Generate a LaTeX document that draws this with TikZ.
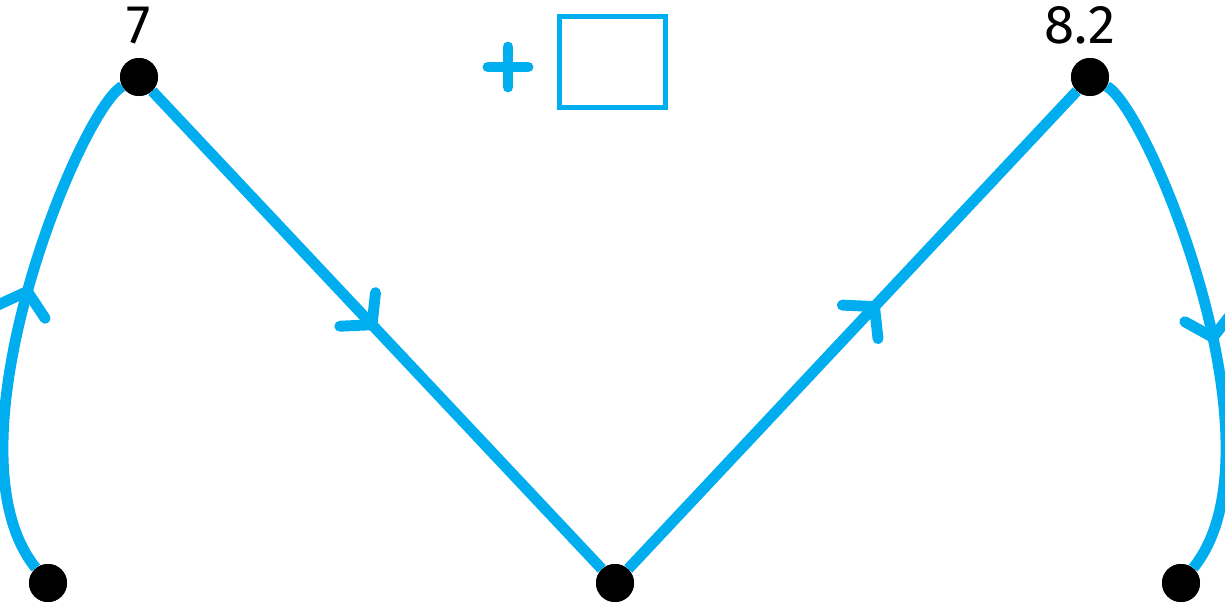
\documentclass[tikz,border=0pt]{standalone}
\usepackage{fontspec}
\setmainfont{Fira Sans}
\usepackage{tikz}
\usetikzlibrary{calc, positioning, arrows.meta, decorations.markings}
\definecolor{pathblue}{RGB}{0,174,239}

\begin{document}
\begin{tikzpicture}[
    dot/.style={circle, fill=black, inner sep=0pt, minimum size=0.76cm},
    val/.style={inner sep=0pt, font=\fontsize{31}{34}\selectfont},
    route/.style={draw=pathblue, line width=6.2pt},
    midarrow/.style={postaction={decorate, decoration={markings,
        mark=at position #1 with {\arrow{Straight Barb[length=0.42cm, width=0.98cm, line cap=round]}}}}}
]
    \useasboundingbox (0,0) rectangle (24.5,12.08);

    % Nodes
    \node[dot] (BL) at (0.96,0.42) {};
    \node[dot] (TL) at (2.78,10.54) {};
    \node[dot] (BM) at (12.30,0.42) {};
    \node[dot] (TR) at (21.80,10.54) {};
    \node[dot] (BR) at (23.62,0.42) {};

    \node[val, above=0.26cm of TL] (TLval) {7};
    \node[val, above=0.26cm of TR, xshift=-0.2cm] (TRval) {8.2};

    \node[draw=pathblue, line width=3pt, minimum width=2.12cm, minimum height=1.82cm] (box) at (12.25,10.84) {};
    \coordinate (plus) at (10.16,10.74);
    \draw[pathblue, line width=6.2pt, line cap=round] ($(plus)+(-0.40,0)$) -- ($(plus)+(0.40,0)$);
    \draw[pathblue, line width=6.2pt, line cap=round] ($(plus)+(0,-0.40)$) -- ($(plus)+(0,0.40)$);

    % Arrows (route)
    \path[route, midarrow=0.57] (BL) .. controls (-1.2,3.08) and (1.6,9.88) .. (TL);
    \path[route, midarrow=0.5] (TL) -- (BM);
    \path[route, midarrow=0.56] (BM) -- (TR);
    \path[route, midarrow=0.55] (TR) .. controls (22.98,9.88) and (25.78,3.08) .. (BR);

    % dots on top
    \foreach \d in {BL, TL, BM, TR, BR}
        \fill (\d) circle (0.38cm);
\end{tikzpicture}
\end{document}
